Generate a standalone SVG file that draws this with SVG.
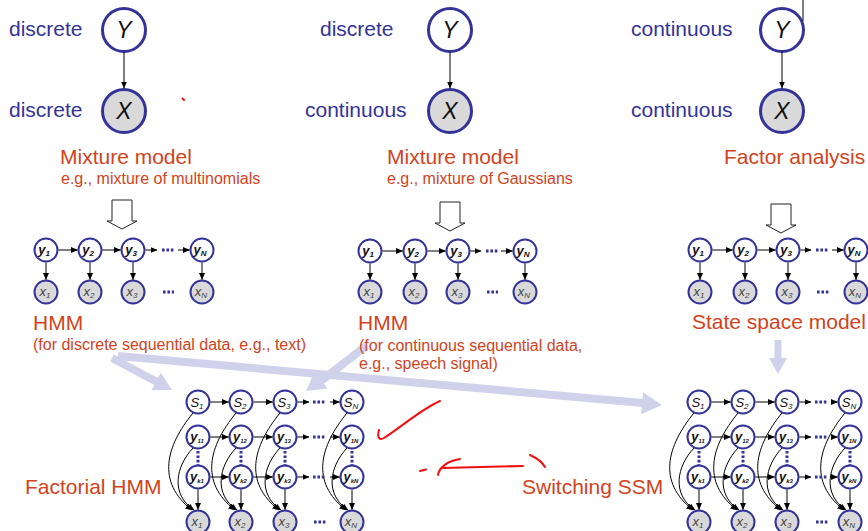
<svg xmlns="http://www.w3.org/2000/svg" width="868" height="531" viewBox="0 0 868 531">
<defs>
<marker id="ah" markerUnits="userSpaceOnUse" markerWidth="7" markerHeight="6" refX="6.5" refY="3" orient="auto"><path d="M0,0 L7,3 L0,6 z" fill="#000"/></marker>
<style>
text{font-family:"Liberation Sans",Arial,sans-serif}
.bt{font-size:21px;fill:#333399}
.rt{font-size:21px;fill:#d2431c}
.rs{font-size:16px;fill:#d2431c}
.nw{fill:#fff;stroke:#333399;stroke-width:2}
.ng{fill:#d9d9d9;stroke:#333399;stroke-width:2}
.big{stroke-width:3}
.ed{stroke:#000;stroke-width:1;fill:none;marker-end:url(#ah)}
.dh{stroke:#333399;stroke-width:3;stroke-dasharray:2.6 1.8;fill:none}
.L{font-style:italic;font-size:23px;text-anchor:middle;fill:#111}
.yl{font-style:italic;font-weight:bold;font-size:13px;text-anchor:middle;fill:#111}
.sl{font-style:italic;font-size:13px;text-anchor:middle;fill:#111}
.xl{font-style:italic;font-size:13px;text-anchor:middle;fill:#444}
.sb{font-size:8px}
.ss{font-size:6px}
.lav{fill:#d0d2ec}
.lavs{stroke:#d0d2ec;fill:none}
.hol{fill:#fff;stroke:#222;stroke-width:1}
.red{stroke:#f01010;stroke-width:2;fill:none;stroke-linecap:round}
</style>
</defs>
<rect width="868" height="531" fill="#fff"/>

<!-- lavender arrows (behind text) -->
<g id="lavender-arrows">
<line class="lavs" stroke-width="8" x1="112" y1="358" x2="157" y2="382"/>
<polygon class="lav" points="172,390 151.4,390.3 160.8,372.7"/>
<line class="lavs" stroke-width="8" x1="118" y1="356" x2="643" y2="403"/>
<polygon class="lav" points="662,405 641.1,414.2 643.1,392.2"/>
<line class="lavs" stroke-width="8" x1="366" y1="346" x2="321" y2="381"/>
<polygon class="lav" points="306,391 314.5,372 327.5,388.5"/>
<line class="lavs" stroke-width="7" x1="778" y1="340" x2="778" y2="359"/>
<polygon class="lav" points="778,374 769,358 787,358"/>
</g>

<!-- top labels -->
<g id="labels-top">
<text class="bt" x="9" y="36">discrete</text>
<text class="bt" x="9" y="117">discrete</text>
<text class="bt" x="320" y="36">discrete</text>
<text class="bt" x="305" y="117">continuous</text>
<text class="bt" x="631" y="36">continuous</text>
<text class="bt" x="631" y="117">continuous</text>
<text class="rt" x="60" y="164">Mixture model</text>
<text class="rs" x="61" y="184">e.g., mixture of multinomials</text>
<text class="rt" x="387" y="164">Mixture model</text>
<text class="rs" x="387" y="184">e.g., mixture of Gaussians</text>
<text class="rt" x="724" y="164">Factor analysis</text>
</g>

<g id="top1-Y"><circle class="nw big" cx="124" cy="30" r="21.5"/><text class="L" x="124" y="38">Y</text></g>
<g id="top1-X"><circle class="ng big" cx="124" cy="111" r="21.5"/><text class="L" x="124" y="119">X</text></g>
<g id="top2-Y"><circle class="nw big" cx="450" cy="30" r="21.5"/><text class="L" x="450" y="38">Y</text></g>
<g id="top2-X"><circle class="ng big" cx="450" cy="111" r="21.5"/><text class="L" x="450" y="119">X</text></g>
<g id="top3-Y"><circle class="nw big" cx="782" cy="30" r="21.5"/><text class="L" x="782" y="38">Y</text></g>
<g id="top3-X"><circle class="ng big" cx="782" cy="111" r="21.5"/><text class="L" x="782" y="119">X</text></g>

<!-- hollow arrows -->
<g id="hollow-arrows">
<polygon class="hol" points="112,200 132,200 132,221 137,221 122,229 107,221 112,221"/>
<polygon class="hol" points="440,202 460,202 460,223 465,223 450,231 435,223 440,223"/>
<polygon class="hol" points="771,204 791,204 791,225 796,225 781,233 766,225 771,225"/>
</g>

<!-- HMM 1 -->
<g id="hmm1-y1"><circle class="nw" cx="46" cy="250" r="11.5"/><text class="yl" x="44" y="254">y<tspan class="sb" dy="2">1</tspan></text></g>
<g id="hmm1-y2"><circle class="nw" cx="90" cy="250" r="11.5"/><text class="yl" x="88" y="254">y<tspan class="sb" dy="2">2</tspan></text></g>
<g id="hmm1-y3"><circle class="nw" cx="133" cy="250" r="11.5"/><text class="yl" x="131" y="254">y<tspan class="sb" dy="2">3</tspan></text></g>
<g id="hmm1-yN"><circle class="nw" cx="202" cy="250" r="11.5"/><text class="yl" x="200" y="254">y<tspan class="sb" dy="2">N</tspan></text></g>
<g id="hmm1-x1"><circle class="ng" cx="46" cy="292" r="11.5"/><text class="xl" x="45" y="296">x<tspan class="sb" dy="2">1</tspan></text></g>
<g id="hmm1-x2"><circle class="ng" cx="90" cy="292" r="11.5"/><text class="xl" x="89" y="296">x<tspan class="sb" dy="2">2</tspan></text></g>
<g id="hmm1-x3"><circle class="ng" cx="133" cy="292" r="11.5"/><text class="xl" x="132" y="296">x<tspan class="sb" dy="2">3</tspan></text></g>
<g id="hmm1-xN"><circle class="ng" cx="202" cy="292" r="11.5"/><text class="xl" x="201" y="296">x<tspan class="sb" dy="2">N</tspan></text></g>

<!-- HMM 2 -->
<g id="hmm2-y1"><circle class="nw" cx="370" cy="251" r="11.5"/><text class="yl" x="368" y="255">y<tspan class="sb" dy="2">1</tspan></text></g>
<g id="hmm2-y2"><circle class="nw" cx="415" cy="251" r="11.5"/><text class="yl" x="413" y="255">y<tspan class="sb" dy="2">2</tspan></text></g>
<g id="hmm2-y3"><circle class="nw" cx="458" cy="251" r="11.5"/><text class="yl" x="456" y="255">y<tspan class="sb" dy="2">3</tspan></text></g>
<g id="hmm2-yN"><circle class="nw" cx="525" cy="251" r="11.5"/><text class="yl" x="523" y="255">y<tspan class="sb" dy="2">N</tspan></text></g>
<g id="hmm2-x1"><circle class="ng" cx="370" cy="292" r="11.5"/><text class="xl" x="369" y="296">x<tspan class="sb" dy="2">1</tspan></text></g>
<g id="hmm2-x2"><circle class="ng" cx="415" cy="292" r="11.5"/><text class="xl" x="414" y="296">x<tspan class="sb" dy="2">2</tspan></text></g>
<g id="hmm2-x3"><circle class="ng" cx="458" cy="292" r="11.5"/><text class="xl" x="457" y="296">x<tspan class="sb" dy="2">3</tspan></text></g>
<g id="hmm2-xN"><circle class="ng" cx="525" cy="292" r="11.5"/><text class="xl" x="524" y="296">x<tspan class="sb" dy="2">N</tspan></text></g>

<!-- SSM -->
<g id="ssm-y1"><circle class="nw" cx="700" cy="250" r="11.5"/><text class="yl" x="698" y="254">y<tspan class="sb" dy="2">1</tspan></text></g>
<g id="ssm-y2"><circle class="nw" cx="745" cy="250" r="11.5"/><text class="yl" x="743" y="254">y<tspan class="sb" dy="2">2</tspan></text></g>
<g id="ssm-y3"><circle class="nw" cx="788" cy="250" r="11.5"/><text class="yl" x="786" y="254">y<tspan class="sb" dy="2">3</tspan></text></g>
<g id="ssm-yN"><circle class="nw" cx="856" cy="250" r="11.5"/><text class="yl" x="854" y="254">y<tspan class="sb" dy="2">N</tspan></text></g>
<g id="ssm-x1"><circle class="ng" cx="700" cy="292" r="11.5"/><text class="xl" x="699" y="296">x<tspan class="sb" dy="2">1</tspan></text></g>
<g id="ssm-x2"><circle class="ng" cx="745" cy="292" r="11.5"/><text class="xl" x="744" y="296">x<tspan class="sb" dy="2">2</tspan></text></g>
<g id="ssm-x3"><circle class="ng" cx="788" cy="292" r="11.5"/><text class="xl" x="787" y="296">x<tspan class="sb" dy="2">3</tspan></text></g>
<g id="ssm-xN"><circle class="ng" cx="856" cy="292" r="11.5"/><text class="xl" x="855" y="296">x<tspan class="sb" dy="2">N</tspan></text></g>

<g id="labels-mid">
<text class="rt" x="33" y="330">HMM</text>
<text class="rs" x="33" y="350">(for discrete sequential data, e.g., text)</text>
<text class="rt" x="358" y="330">HMM</text>
<text class="rs" x="359" y="351">(for continuous sequential data,</text>
<text class="rs" x="359" y="369">e.g., speech signal)</text>
<text class="rt" x="692" y="329">State space model</text>
<text class="rt" x="25" y="494">Factorial HMM</text>
<text class="rt" x="522" y="494">Switching SSM</text>
</g>

<!-- Factorial HMM nodes -->
<g id="fhmm-S1"><circle class="nw" cx="198" cy="402" r="11.5"/><text class="sl" x="197" y="407">S<tspan class="sb" dy="2">1</tspan></text></g>
<g id="fhmm-S2"><circle class="nw" cx="241" cy="402" r="11.5"/><text class="sl" x="240" y="407">S<tspan class="sb" dy="2">2</tspan></text></g>
<g id="fhmm-S3"><circle class="nw" cx="285" cy="402" r="11.5"/><text class="sl" x="284" y="407">S<tspan class="sb" dy="2">3</tspan></text></g>
<g id="fhmm-SN"><circle class="nw" cx="352" cy="402" r="11.5"/><text class="sl" x="351" y="407">S<tspan class="sb" dy="2">N</tspan></text></g>
<g id="fhmm-y11"><circle class="nw" cx="198" cy="437" r="11.5"/><text class="yl" x="197" y="441">y<tspan class="ss" dy="2">11</tspan></text></g>
<g id="fhmm-y12"><circle class="nw" cx="241" cy="437" r="11.5"/><text class="yl" x="240" y="441">y<tspan class="ss" dy="2">12</tspan></text></g>
<g id="fhmm-y13"><circle class="nw" cx="285" cy="437" r="11.5"/><text class="yl" x="284" y="441">y<tspan class="ss" dy="2">13</tspan></text></g>
<g id="fhmm-y1N"><circle class="nw" cx="352" cy="437" r="11.5"/><text class="yl" x="351" y="441">y<tspan class="ss" dy="2">1N</tspan></text></g>
<g id="fhmm-yk1"><circle class="nw" cx="198" cy="477" r="11.5"/><text class="yl" x="197" y="481">y<tspan class="ss" dy="2">k1</tspan></text></g>
<g id="fhmm-yk2"><circle class="nw" cx="241" cy="477" r="11.5"/><text class="yl" x="240" y="481">y<tspan class="ss" dy="2">k2</tspan></text></g>
<g id="fhmm-yk3"><circle class="nw" cx="285" cy="477" r="11.5"/><text class="yl" x="284" y="481">y<tspan class="ss" dy="2">k3</tspan></text></g>
<g id="fhmm-ykN"><circle class="nw" cx="352" cy="477" r="11.5"/><text class="yl" x="351" y="481">y<tspan class="ss" dy="2">kN</tspan></text></g>
<g id="fhmm-x1"><circle class="ng" cx="198" cy="522" r="11.5"/><text class="xl" x="197" y="526">x<tspan class="sb" dy="2">1</tspan></text></g>
<g id="fhmm-x2"><circle class="ng" cx="241" cy="522" r="11.5"/><text class="xl" x="240" y="526">x<tspan class="sb" dy="2">2</tspan></text></g>
<g id="fhmm-x3"><circle class="ng" cx="285" cy="522" r="11.5"/><text class="xl" x="284" y="526">x<tspan class="sb" dy="2">3</tspan></text></g>
<g id="fhmm-xN"><circle class="ng" cx="352" cy="522" r="11.5"/><text class="xl" x="351" y="526">x<tspan class="sb" dy="2">N</tspan></text></g>

<!-- Switching SSM nodes -->
<g id="sssm-S1"><circle class="nw" cx="699" cy="402" r="11.5"/><text class="sl" x="698" y="407">S<tspan class="sb" dy="2">1</tspan></text></g>
<g id="sssm-S2"><circle class="nw" cx="743" cy="402" r="11.5"/><text class="sl" x="742" y="407">S<tspan class="sb" dy="2">2</tspan></text></g>
<g id="sssm-S3"><circle class="nw" cx="787" cy="402" r="11.5"/><text class="sl" x="786" y="407">S<tspan class="sb" dy="2">3</tspan></text></g>
<g id="sssm-SN"><circle class="nw" cx="850" cy="402" r="11.5"/><text class="sl" x="849" y="407">S<tspan class="sb" dy="2">N</tspan></text></g>
<g id="sssm-y11"><circle class="nw" cx="699" cy="437" r="11.5"/><text class="yl" x="698" y="441">y<tspan class="ss" dy="2">11</tspan></text></g>
<g id="sssm-y12"><circle class="nw" cx="743" cy="437" r="11.5"/><text class="yl" x="742" y="441">y<tspan class="ss" dy="2">12</tspan></text></g>
<g id="sssm-y13"><circle class="nw" cx="787" cy="437" r="11.5"/><text class="yl" x="786" y="441">y<tspan class="ss" dy="2">13</tspan></text></g>
<g id="sssm-y1N"><circle class="nw" cx="850" cy="437" r="11.5"/><text class="yl" x="849" y="441">y<tspan class="ss" dy="2">1N</tspan></text></g>
<g id="sssm-yk1"><circle class="nw" cx="699" cy="477" r="11.5"/><text class="yl" x="698" y="481">y<tspan class="ss" dy="2">k1</tspan></text></g>
<g id="sssm-yk2"><circle class="nw" cx="743" cy="477" r="11.5"/><text class="yl" x="742" y="481">y<tspan class="ss" dy="2">k2</tspan></text></g>
<g id="sssm-yk3"><circle class="nw" cx="787" cy="477" r="11.5"/><text class="yl" x="786" y="481">y<tspan class="ss" dy="2">k3</tspan></text></g>
<g id="sssm-ykN"><circle class="nw" cx="850" cy="477" r="11.5"/><text class="yl" x="849" y="481">y<tspan class="ss" dy="2">kN</tspan></text></g>
<g id="sssm-x1"><circle class="ng" cx="699" cy="522" r="11.5"/><text class="xl" x="698" y="526">x<tspan class="sb" dy="2">1</tspan></text></g>
<g id="sssm-x2"><circle class="ng" cx="743" cy="522" r="11.5"/><text class="xl" x="742" y="526">x<tspan class="sb" dy="2">2</tspan></text></g>
<g id="sssm-x3"><circle class="ng" cx="787" cy="522" r="11.5"/><text class="xl" x="786" y="526">x<tspan class="sb" dy="2">3</tspan></text></g>
<g id="sssm-xN"><circle class="ng" cx="850" cy="522" r="11.5"/><text class="xl" x="849" y="526">x<tspan class="sb" dy="2">N</tspan></text></g>

<!-- connectors -->
<g id="connectors">
<line class="ed" x1="124" y1="52" x2="124" y2="88"/>
<line class="ed" x1="450" y1="52" x2="450" y2="88"/>
<line class="ed" x1="782" y1="52" x2="782" y2="88"/>
<line stroke="#000" stroke-width="1" x1="803" y1="0" x2="803" y2="21"/>

<line class="ed" x1="58.5" y1="250" x2="77.5" y2="250"/>
<line class="ed" x1="102.5" y1="250" x2="120.5" y2="250"/>
<line class="ed" x1="145.5" y1="250" x2="157" y2="250"/>
<line class="ed" x1="178" y1="250" x2="189.5" y2="250"/>
<line class="ed" x1="46" y1="262.5" x2="46" y2="279.5"/>
<line class="ed" x1="90" y1="262.5" x2="90" y2="279.5"/>
<line class="ed" x1="133" y1="262.5" x2="133" y2="279.5"/>
<line class="ed" x1="202" y1="262.5" x2="202" y2="279.5"/>

<line class="ed" x1="382.5" y1="251" x2="402.5" y2="251"/>
<line class="ed" x1="427.5" y1="251" x2="445.5" y2="251"/>
<line class="ed" x1="470.5" y1="251" x2="481" y2="251"/>
<line class="ed" x1="501" y1="251" x2="512.5" y2="251"/>
<line class="ed" x1="370" y1="263.5" x2="370" y2="279.5"/>
<line class="ed" x1="415" y1="263.5" x2="415" y2="279.5"/>
<line class="ed" x1="458" y1="263.5" x2="458" y2="279.5"/>
<line class="ed" x1="525" y1="263.5" x2="525" y2="279.5"/>

<line class="ed" x1="712.5" y1="250" x2="732.5" y2="250"/>
<line class="ed" x1="757.5" y1="250" x2="775.5" y2="250"/>
<line class="ed" x1="800.5" y1="250" x2="811" y2="250"/>
<line class="ed" x1="832" y1="250" x2="843.5" y2="250"/>
<line class="ed" x1="700" y1="262.5" x2="700" y2="279.5"/>
<line class="ed" x1="745" y1="262.5" x2="745" y2="279.5"/>
<line class="ed" x1="788" y1="262.5" x2="788" y2="279.5"/>
<line class="ed" x1="856" y1="262.5" x2="856" y2="279.5"/>

<line class="ed" x1="210.5" y1="402" x2="228.5" y2="402"/>
<line class="ed" x1="253.5" y1="402" x2="272.5" y2="402"/>
<line class="ed" x1="297.5" y1="402" x2="309" y2="402"/>
<line class="ed" x1="330" y1="402" x2="339.5" y2="402"/>
<line class="ed" x1="210.5" y1="437" x2="228.5" y2="437"/>
<line class="ed" x1="253.5" y1="437" x2="272.5" y2="437"/>
<line class="ed" x1="297.5" y1="437" x2="309" y2="437"/>
<line class="ed" x1="330" y1="437" x2="339.5" y2="437"/>
<line class="ed" x1="210.5" y1="477" x2="228.5" y2="477"/>
<line class="ed" x1="253.5" y1="477" x2="272.5" y2="477"/>
<line class="ed" x1="297.5" y1="477" x2="309" y2="477"/>
<line class="ed" x1="330" y1="477" x2="339.5" y2="477"/>
<path class="ed" d="M193,413 C166,446 156,482 192,510"/>
<path class="ed" d="M193,448 C176,466 170,494 194,510"/>
<path class="ed" d="M198,489.5 L198,509.5"/>
<path class="ed" d="M236,413 C209,446 199,482 235,510"/>
<path class="ed" d="M236,448 C219,466 213,494 237,510"/>
<path class="ed" d="M241,489.5 L241,509.5"/>
<path class="ed" d="M280,413 C253,446 243,482 279,510"/>
<path class="ed" d="M280,448 C263,466 257,494 281,510"/>
<path class="ed" d="M285,489.5 L285,509.5"/>
<path class="ed" d="M347,413 C320,446 310,482 346,510"/>
<path class="ed" d="M347,448 C330,466 324,494 348,510"/>
<path class="ed" d="M352,489.5 L352,509.5"/>

<line class="ed" x1="711.5" y1="402" x2="730.5" y2="402"/>
<line class="ed" x1="755.5" y1="402" x2="774.5" y2="402"/>
<line class="ed" x1="799.5" y1="402" x2="811" y2="402"/>
<line class="ed" x1="832" y1="402" x2="837.5" y2="402"/>
<line class="ed" x1="711.5" y1="437" x2="730.5" y2="437"/>
<line class="ed" x1="755.5" y1="437" x2="774.5" y2="437"/>
<line class="ed" x1="799.5" y1="437" x2="811" y2="437"/>
<line class="ed" x1="832" y1="437" x2="837.5" y2="437"/>
<line class="ed" x1="711.5" y1="477" x2="730.5" y2="477"/>
<line class="ed" x1="755.5" y1="477" x2="774.5" y2="477"/>
<line class="ed" x1="799.5" y1="477" x2="811" y2="477"/>
<line class="ed" x1="832" y1="477" x2="837.5" y2="477"/>
<path class="ed" d="M694,413 C667,446 657,482 693,510"/>
<path class="ed" d="M694,448 C677,466 671,494 695,510"/>
<path class="ed" d="M699,489.5 L699,509.5"/>
<path class="ed" d="M738,413 C711,446 701,482 737,510"/>
<path class="ed" d="M738,448 C721,466 715,494 739,510"/>
<path class="ed" d="M743,489.5 L743,509.5"/>
<path class="ed" d="M782,413 C755,446 745,482 781,510"/>
<path class="ed" d="M782,448 C765,466 759,494 783,510"/>
<path class="ed" d="M787,489.5 L787,509.5"/>
<path class="ed" d="M845,413 C818,446 808,482 844,510"/>
<path class="ed" d="M845,448 C828,466 822,494 846,510"/>
<path class="ed" d="M850,489.5 L850,509.5"/>
</g>

<g id="ellipses">
<path class="dh" d="M162,250 H175 M163,292 H174 M486,251 H498 M487,292 H498 M816,250 H829 M817,292 H829"/>
<path class="dh" d="M313,402 H326 M313,437 H326 M313,477 H326 M314,522 H326"/>
<path class="dh" d="M815,402 H828 M815,437 H828 M815,477 H828 M816,522 H828"/>
<path class="dh" d="M198,451 V465 M241,451 V465 M285,451 V465 M352,451 V465 M699,451 V465 M743,451 V465 M787,451 V465 M850,451 V465"/>
</g>

<g id="red-marks">
<path class="red" d="M182.5,98.5 L184,100"/>
<path class="red" d="M379,430 C377,437 379,441 384,438 C400,428 420,410 440,401"/>
<path class="red" d="M420,471 L426,469.5"/>
<path class="red" d="M438,475 C439,468 447,461 460,459"/>
<path class="red" d="M443,468 L523,466"/>
<path class="red" d="M530,455 Q541,460 545,467"/>
</g>
</svg>
